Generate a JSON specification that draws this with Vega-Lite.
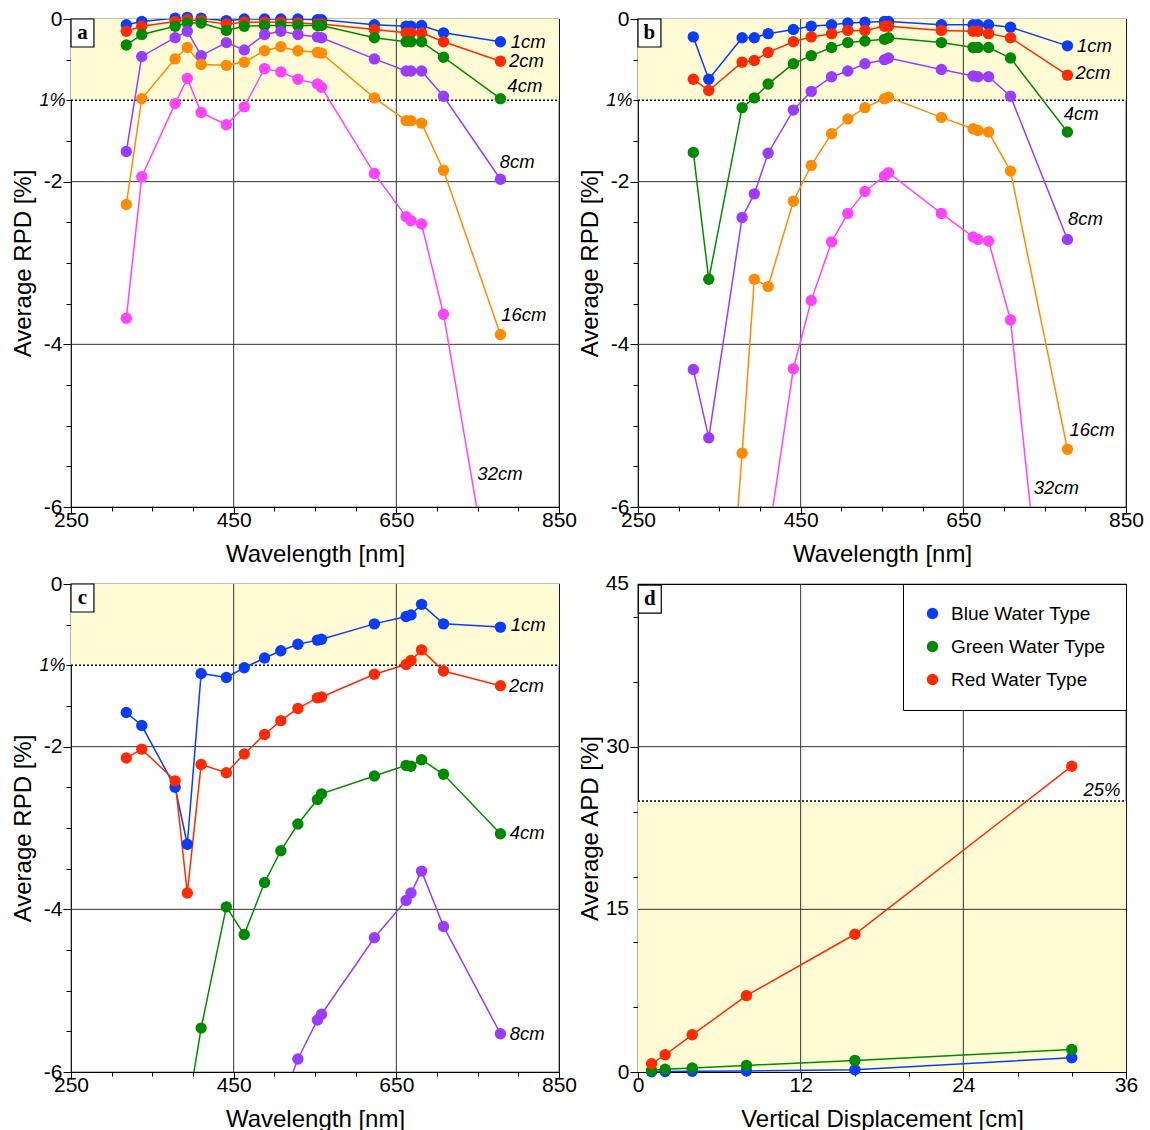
{
  "$schema": "https://vega.github.io/schema/vega-lite/v6.json",
  "padding": {"left": 11, "top": 7, "right": 5, "bottom": 0},
  "bounds": "flush",
  "columns": 2,
  "spacing": {"row": 77, "column": 79},
  "resolve": {"scale": {"color": "independent"}, "legend": {"color": "independent"}},
  "datasets": {
    "one": [{"k": 1}],
    "A": [
      {"w":318,"v":-0.07,"s":"1cm"},{"w":337,"v":-0.03,"s":"1cm"},{"w":378,"v":0.01,"s":"1cm"},{"w":393,"v":0.02,"s":"1cm"},{"w":410,"v":0.01,"s":"1cm"},{"w":441,"v":-0.02,"s":"1cm"},{"w":463,"v":0.0,"s":"1cm"},{"w":488,"v":0.0,"s":"1cm"},{"w":508,"v":0.0,"s":"1cm"},{"w":529,"v":0.0,"s":"1cm"},{"w":553,"v":-0.01,"s":"1cm"},{"w":558,"v":-0.01,"s":"1cm"},{"w":623,"v":-0.07,"s":"1cm"},{"w":662,"v":-0.09,"s":"1cm"},{"w":668,"v":-0.09,"s":"1cm"},{"w":681,"v":-0.08,"s":"1cm"},{"w":708,"v":-0.17,"s":"1cm"},{"w":778,"v":-0.28,"s":"1cm"},
      {"w":318,"v":-0.15,"s":"2cm"},{"w":337,"v":-0.09,"s":"2cm"},{"w":378,"v":-0.03,"s":"2cm"},{"w":393,"v":-0.01,"s":"2cm"},{"w":410,"v":-0.02,"s":"2cm"},{"w":441,"v":-0.06,"s":"2cm"},{"w":463,"v":-0.04,"s":"2cm"},{"w":488,"v":-0.04,"s":"2cm"},{"w":508,"v":-0.04,"s":"2cm"},{"w":529,"v":-0.05,"s":"2cm"},{"w":553,"v":-0.06,"s":"2cm"},{"w":558,"v":-0.06,"s":"2cm"},{"w":623,"v":-0.13,"s":"2cm"},{"w":662,"v":-0.17,"s":"2cm"},{"w":668,"v":-0.17,"s":"2cm"},{"w":681,"v":-0.17,"s":"2cm"},{"w":708,"v":-0.28,"s":"2cm"},{"w":778,"v":-0.52,"s":"2cm"},
      {"w":318,"v":-0.32,"s":"4cm"},{"w":337,"v":-0.19,"s":"4cm"},{"w":378,"v":-0.09,"s":"4cm"},{"w":393,"v":-0.05,"s":"4cm"},{"w":410,"v":-0.05,"s":"4cm"},{"w":441,"v":-0.14,"s":"4cm"},{"w":463,"v":-0.09,"s":"4cm"},{"w":488,"v":-0.08,"s":"4cm"},{"w":508,"v":-0.08,"s":"4cm"},{"w":529,"v":-0.08,"s":"4cm"},{"w":553,"v":-0.08,"s":"4cm"},{"w":558,"v":-0.08,"s":"4cm"},{"w":623,"v":-0.23,"s":"4cm"},{"w":662,"v":-0.28,"s":"4cm"},{"w":668,"v":-0.28,"s":"4cm"},{"w":681,"v":-0.28,"s":"4cm"},{"w":708,"v":-0.47,"s":"4cm"},{"w":778,"v":-0.98,"s":"4cm"},
      {"w":318,"v":-1.63,"s":"8cm"},{"w":337,"v":-0.46,"s":"8cm"},{"w":378,"v":-0.23,"s":"8cm"},{"w":393,"v":-0.15,"s":"8cm"},{"w":410,"v":-0.45,"s":"8cm"},{"w":441,"v":-0.29,"s":"8cm"},{"w":463,"v":-0.38,"s":"8cm"},{"w":488,"v":-0.19,"s":"8cm"},{"w":508,"v":-0.15,"s":"8cm"},{"w":529,"v":-0.19,"s":"8cm"},{"w":553,"v":-0.22,"s":"8cm"},{"w":558,"v":-0.23,"s":"8cm"},{"w":623,"v":-0.49,"s":"8cm"},{"w":662,"v":-0.64,"s":"8cm"},{"w":668,"v":-0.64,"s":"8cm"},{"w":681,"v":-0.64,"s":"8cm"},{"w":708,"v":-0.95,"s":"8cm"},{"w":778,"v":-1.97,"s":"8cm"},
      {"w":318,"v":-2.28,"s":"16cm"},{"w":337,"v":-0.98,"s":"16cm"},{"w":378,"v":-0.49,"s":"16cm"},{"w":393,"v":-0.35,"s":"16cm"},{"w":410,"v":-0.56,"s":"16cm"},{"w":441,"v":-0.57,"s":"16cm"},{"w":463,"v":-0.53,"s":"16cm"},{"w":488,"v":-0.39,"s":"16cm"},{"w":508,"v":-0.34,"s":"16cm"},{"w":529,"v":-0.39,"s":"16cm"},{"w":553,"v":-0.41,"s":"16cm"},{"w":558,"v":-0.42,"s":"16cm"},{"w":623,"v":-0.97,"s":"16cm"},{"w":662,"v":-1.25,"s":"16cm"},{"w":668,"v":-1.25,"s":"16cm"},{"w":681,"v":-1.28,"s":"16cm"},{"w":708,"v":-1.86,"s":"16cm"},{"w":778,"v":-3.88,"s":"16cm"},
      {"w":318,"v":-3.68,"s":"32cm"},{"w":337,"v":-1.94,"s":"32cm"},{"w":378,"v":-1.04,"s":"32cm"},{"w":393,"v":-0.73,"s":"32cm"},{"w":410,"v":-1.15,"s":"32cm"},{"w":441,"v":-1.30,"s":"32cm"},{"w":463,"v":-1.08,"s":"32cm"},{"w":488,"v":-0.61,"s":"32cm"},{"w":508,"v":-0.65,"s":"32cm"},{"w":529,"v":-0.74,"s":"32cm"},{"w":553,"v":-0.80,"s":"32cm"},{"w":558,"v":-0.84,"s":"32cm"},{"w":623,"v":-1.90,"s":"32cm"},{"w":662,"v":-2.43,"s":"32cm"},{"w":668,"v":-2.48,"s":"32cm"},{"w":681,"v":-2.52,"s":"32cm"},{"w":708,"v":-3.63,"s":"32cm"},{"w":778,"v":-7.7,"s":"32cm"}
    ],
    "B": [
      {"w":318,"v":-0.22,"s":"1cm"},{"w":337,"v":-0.74,"s":"1cm"},{"w":378,"v":-0.23,"s":"1cm"},{"w":393,"v":-0.23,"s":"1cm"},{"w":410,"v":-0.18,"s":"1cm"},{"w":441,"v":-0.13,"s":"1cm"},{"w":463,"v":-0.09,"s":"1cm"},{"w":488,"v":-0.07,"s":"1cm"},{"w":508,"v":-0.05,"s":"1cm"},{"w":529,"v":-0.04,"s":"1cm"},{"w":553,"v":-0.03,"s":"1cm"},{"w":558,"v":-0.03,"s":"1cm"},{"w":623,"v":-0.07,"s":"1cm"},{"w":662,"v":-0.07,"s":"1cm"},{"w":668,"v":-0.07,"s":"1cm"},{"w":681,"v":-0.07,"s":"1cm"},{"w":708,"v":-0.10,"s":"1cm"},{"w":778,"v":-0.33,"s":"1cm"},
      {"w":318,"v":-0.74,"s":"2cm"},{"w":337,"v":-0.88,"s":"2cm"},{"w":378,"v":-0.53,"s":"2cm"},{"w":393,"v":-0.51,"s":"2cm"},{"w":410,"v":-0.41,"s":"2cm"},{"w":441,"v":-0.28,"s":"2cm"},{"w":463,"v":-0.22,"s":"2cm"},{"w":488,"v":-0.18,"s":"2cm"},{"w":508,"v":-0.14,"s":"2cm"},{"w":529,"v":-0.14,"s":"2cm"},{"w":553,"v":-0.09,"s":"2cm"},{"w":558,"v":-0.09,"s":"2cm"},{"w":623,"v":-0.14,"s":"2cm"},{"w":662,"v":-0.15,"s":"2cm"},{"w":668,"v":-0.15,"s":"2cm"},{"w":681,"v":-0.18,"s":"2cm"},{"w":708,"v":-0.23,"s":"2cm"},{"w":778,"v":-0.69,"s":"2cm"},
      {"w":318,"v":-1.64,"s":"4cm"},{"w":337,"v":-3.20,"s":"4cm"},{"w":378,"v":-1.09,"s":"4cm"},{"w":393,"v":-0.97,"s":"4cm"},{"w":410,"v":-0.80,"s":"4cm"},{"w":441,"v":-0.55,"s":"4cm"},{"w":463,"v":-0.45,"s":"4cm"},{"w":488,"v":-0.35,"s":"4cm"},{"w":508,"v":-0.29,"s":"4cm"},{"w":529,"v":-0.27,"s":"4cm"},{"w":553,"v":-0.25,"s":"4cm"},{"w":558,"v":-0.23,"s":"4cm"},{"w":623,"v":-0.29,"s":"4cm"},{"w":662,"v":-0.35,"s":"4cm"},{"w":668,"v":-0.35,"s":"4cm"},{"w":681,"v":-0.35,"s":"4cm"},{"w":708,"v":-0.48,"s":"4cm"},{"w":778,"v":-1.39,"s":"4cm"},
      {"w":318,"v":-4.31,"s":"8cm"},{"w":337,"v":-5.15,"s":"8cm"},{"w":378,"v":-2.44,"s":"8cm"},{"w":393,"v":-2.15,"s":"8cm"},{"w":410,"v":-1.65,"s":"8cm"},{"w":441,"v":-1.12,"s":"8cm"},{"w":463,"v":-0.89,"s":"8cm"},{"w":488,"v":-0.71,"s":"8cm"},{"w":508,"v":-0.64,"s":"8cm"},{"w":529,"v":-0.55,"s":"8cm"},{"w":553,"v":-0.50,"s":"8cm"},{"w":558,"v":-0.48,"s":"8cm"},{"w":623,"v":-0.62,"s":"8cm"},{"w":662,"v":-0.70,"s":"8cm"},{"w":668,"v":-0.71,"s":"8cm"},{"w":681,"v":-0.71,"s":"8cm"},{"w":708,"v":-0.95,"s":"8cm"},{"w":778,"v":-2.71,"s":"8cm"},
      {"w":318,"v":-9.5,"s":"16cm"},{"w":337,"v":-10.8,"s":"16cm"},{"w":378,"v":-5.34,"s":"16cm"},{"w":393,"v":-3.20,"s":"16cm"},{"w":410,"v":-3.29,"s":"16cm"},{"w":441,"v":-2.24,"s":"16cm"},{"w":463,"v":-1.80,"s":"16cm"},{"w":488,"v":-1.41,"s":"16cm"},{"w":508,"v":-1.23,"s":"16cm"},{"w":529,"v":-1.09,"s":"16cm"},{"w":553,"v":-0.98,"s":"16cm"},{"w":558,"v":-0.96,"s":"16cm"},{"w":623,"v":-1.21,"s":"16cm"},{"w":662,"v":-1.35,"s":"16cm"},{"w":668,"v":-1.37,"s":"16cm"},{"w":681,"v":-1.39,"s":"16cm"},{"w":708,"v":-1.87,"s":"16cm"},{"w":778,"v":-5.29,"s":"16cm"},
      {"w":318,"v":-10.5,"s":"32cm"},{"w":337,"v":-10.5,"s":"32cm"},{"w":378,"v":-10,"s":"32cm"},{"w":393,"v":-8.5,"s":"32cm"},{"w":410,"v":-6.4,"s":"32cm"},{"w":441,"v":-4.30,"s":"32cm"},{"w":463,"v":-3.46,"s":"32cm"},{"w":488,"v":-2.74,"s":"32cm"},{"w":508,"v":-2.39,"s":"32cm"},{"w":529,"v":-2.12,"s":"32cm"},{"w":553,"v":-1.93,"s":"32cm"},{"w":558,"v":-1.89,"s":"32cm"},{"w":623,"v":-2.39,"s":"32cm"},{"w":662,"v":-2.68,"s":"32cm"},{"w":668,"v":-2.71,"s":"32cm"},{"w":681,"v":-2.73,"s":"32cm"},{"w":708,"v":-3.70,"s":"32cm"},{"w":778,"v":-10.3,"s":"32cm"}
    ],
    "C": [
      {"w":318,"v":-1.58,"s":"1cm"},{"w":337,"v":-1.74,"s":"1cm"},{"w":378,"v":-2.50,"s":"1cm"},{"w":393,"v":-3.20,"s":"1cm"},{"w":410,"v":-1.10,"s":"1cm"},{"w":441,"v":-1.15,"s":"1cm"},{"w":463,"v":-1.03,"s":"1cm"},{"w":488,"v":-0.91,"s":"1cm"},{"w":508,"v":-0.82,"s":"1cm"},{"w":529,"v":-0.74,"s":"1cm"},{"w":553,"v":-0.69,"s":"1cm"},{"w":558,"v":-0.68,"s":"1cm"},{"w":623,"v":-0.49,"s":"1cm"},{"w":662,"v":-0.40,"s":"1cm"},{"w":668,"v":-0.38,"s":"1cm"},{"w":681,"v":-0.25,"s":"1cm"},{"w":708,"v":-0.49,"s":"1cm"},{"w":778,"v":-0.53,"s":"1cm"},
      {"w":318,"v":-2.14,"s":"2cm"},{"w":337,"v":-2.03,"s":"2cm"},{"w":378,"v":-2.42,"s":"2cm"},{"w":393,"v":-3.80,"s":"2cm"},{"w":410,"v":-2.22,"s":"2cm"},{"w":441,"v":-2.32,"s":"2cm"},{"w":463,"v":-2.09,"s":"2cm"},{"w":488,"v":-1.85,"s":"2cm"},{"w":508,"v":-1.68,"s":"2cm"},{"w":529,"v":-1.53,"s":"2cm"},{"w":553,"v":-1.40,"s":"2cm"},{"w":558,"v":-1.39,"s":"2cm"},{"w":623,"v":-1.11,"s":"2cm"},{"w":662,"v":-0.99,"s":"2cm"},{"w":668,"v":-0.94,"s":"2cm"},{"w":681,"v":-0.81,"s":"2cm"},{"w":708,"v":-1.07,"s":"2cm"},{"w":778,"v":-1.25,"s":"2cm"},
      {"w":318,"v":-9,"s":"4cm"},{"w":337,"v":-9,"s":"4cm"},{"w":378,"v":-8,"s":"4cm"},{"w":393,"v":-6.5,"s":"4cm"},{"w":410,"v":-5.46,"s":"4cm"},{"w":441,"v":-3.97,"s":"4cm"},{"w":463,"v":-4.31,"s":"4cm"},{"w":488,"v":-3.67,"s":"4cm"},{"w":508,"v":-3.28,"s":"4cm"},{"w":529,"v":-2.95,"s":"4cm"},{"w":553,"v":-2.65,"s":"4cm"},{"w":558,"v":-2.58,"s":"4cm"},{"w":623,"v":-2.36,"s":"4cm"},{"w":662,"v":-2.23,"s":"4cm"},{"w":668,"v":-2.24,"s":"4cm"},{"w":681,"v":-2.16,"s":"4cm"},{"w":708,"v":-2.34,"s":"4cm"},{"w":778,"v":-3.07,"s":"4cm"},
      {"w":318,"v":-12,"s":"8cm"},{"w":337,"v":-12,"s":"8cm"},{"w":378,"v":-11,"s":"8cm"},{"w":393,"v":-11,"s":"8cm"},{"w":410,"v":-10,"s":"8cm"},{"w":441,"v":-8.5,"s":"8cm"},{"w":463,"v":-7.5,"s":"8cm"},{"w":488,"v":-7,"s":"8cm"},{"w":508,"v":-6.4,"s":"8cm"},{"w":529,"v":-5.84,"s":"8cm"},{"w":553,"v":-5.36,"s":"8cm"},{"w":558,"v":-5.29,"s":"8cm"},{"w":623,"v":-4.35,"s":"8cm"},{"w":662,"v":-3.89,"s":"8cm"},{"w":668,"v":-3.80,"s":"8cm"},{"w":681,"v":-3.53,"s":"8cm"},{"w":708,"v":-4.21,"s":"8cm"},{"w":778,"v":-5.53,"s":"8cm"}
    ],
    "D": [
      {"dz":1,"apd":0.02,"wt":"Blue Water Type"},{"dz":2,"apd":0.04,"wt":"Blue Water Type"},{"dz":4,"apd":0.07,"wt":"Blue Water Type"},{"dz":8,"apd":0.1,"wt":"Blue Water Type"},{"dz":16,"apd":0.2,"wt":"Blue Water Type"},{"dz":32,"apd":1.32,"wt":"Blue Water Type"},
      {"dz":1,"apd":0.15,"wt":"Green Water Type"},{"dz":2,"apd":0.25,"wt":"Green Water Type"},{"dz":4,"apd":0.37,"wt":"Green Water Type"},{"dz":8,"apd":0.61,"wt":"Green Water Type"},{"dz":16,"apd":1.07,"wt":"Green Water Type"},{"dz":32,"apd":2.08,"wt":"Green Water Type"},
      {"dz":1,"apd":0.76,"wt":"Red Water Type"},{"dz":2,"apd":1.59,"wt":"Red Water Type"},{"dz":4,"apd":3.43,"wt":"Red Water Type"},{"dz":8,"apd":7.04,"wt":"Red Water Type"},{"dz":16,"apd":12.70,"wt":"Red Water Type"},{"dz":32,"apd":28.2,"wt":"Red Water Type"}
    ],
    "LA": [{"w":790.6,"v":-0.285,"t":"1cm"},{"w":788.5,"v":-0.52,"t":"2cm"},{"w":786.5,"v":-0.82,"t":"4cm"},{"w":777,"v":-1.76,"t":"8cm"},{"w":779,"v":-3.64,"t":"16cm"},{"w":749.6,"v":-5.59,"t":"32cm"}],
    "LB": [{"w":789.8,"v":-0.33,"t":"1cm"},{"w":787.8,"v":-0.66,"t":"2cm"},{"w":773.4,"v":-1.17,"t":"4cm"},{"w":778.7,"v":-2.46,"t":"8cm"},{"w":780.4,"v":-5.05,"t":"16cm"},{"w":736.5,"v":-5.77,"t":"32cm"}],
    "LC": [{"w":790.6,"v":-0.51,"t":"1cm"},{"w":788.5,"v":-1.25,"t":"2cm"},{"w":789.4,"v":-3.06,"t":"4cm"},{"w":789.4,"v":-5.53,"t":"8cm"}]
  },
  "concat": [
    {
      "width": 488, "height": 488,
      "layer": [
        {"data": {"name": "one"}, "mark": {"type": "rect", "color": "#fffcd5"}, "encoding": {"x": {"datum": 250, "type": "quantitative", "title": "Wavelength [nm]"}, "x2": {"datum": 850}, "y": {"datum": 0, "type": "quantitative", "title": "Average RPD [%]"}, "y2": {"datum": -1}}},
        {"data": {"name": "one"}, "mark": {"type": "rule", "color": "#333333", "strokeWidth": 1}, "encoding": {"x": {"datum": 450, "type": "quantitative", "title": "Wavelength [nm]"}}},
        {"data": {"name": "one"}, "mark": {"type": "rule", "color": "#333333", "strokeWidth": 1}, "encoding": {"x": {"datum": 650, "type": "quantitative", "title": "Wavelength [nm]"}}},
        {"data": {"name": "one"}, "mark": {"type": "rule", "color": "#333333", "strokeWidth": 1}, "encoding": {"y": {"datum": -2, "type": "quantitative", "title": "Average RPD [%]"}}},
        {"data": {"name": "one"}, "mark": {"type": "rule", "color": "#333333", "strokeWidth": 1}, "encoding": {"y": {"datum": -4, "type": "quantitative", "title": "Average RPD [%]"}}},
        {"data": {"name": "one"}, "mark": {"type": "rule", "color": "black", "strokeWidth": 1.5, "strokeDash": [2, 2]}, "encoding": {"x": {"datum": 250, "type": "quantitative", "title": "Wavelength [nm]"}, "x2": {"datum": 850}, "y": {"datum": -1, "type": "quantitative", "title": "Average RPD [%]"}}},
        {
          "encoding": {
            "x": {"field": "w", "type": "quantitative", "title": "Wavelength [nm]", "scale": {"domain": [250, 850], "nice": false, "zero": false},
              "axis": {"labelOverlap": false, "values": [250,300,350,400,450,500,550,600,650,700,750,800,850], "labelExpr": "(datum.value - 250) % 200 == 0 ? toString(datum.value) : ''",
                "tickSize": {"condition": {"test": "(datum.value - 250) % 200 == 0", "value": 7}, "value": 4}}},
            "y": {"field": "v", "type": "quantitative", "title": "Average RPD [%]", "scale": {"domain": [-6, 0], "nice": false, "zero": false},
              "axis": {"labelOverlap": false, "values": [0,-0.5,-1,-1.5,-2,-2.5,-3,-3.5,-4,-4.5,-5,-5.5,-6], "labelExpr": "datum.value == -1 ? '1%' : (datum.value % 2 == 0 ? toString(datum.value) : '')",
                "labelFontStyle": {"condition": {"test": "datum.value == -1", "value": "italic"}, "value": "normal"},
                "labelFontSize": {"condition": {"test": "datum.value == -1", "value": 18}, "value": 21},
                "tickSize": {"condition": {"test": "datum.value % 2 == 0", "value": 8}, "value": 5}}}
          },
          "layer": [
            {"data": {"name": "A"}, "mark": {"type": "line", "clip": true, "strokeWidth": 1.5},
              "encoding": {"color": {"field": "s", "type": "nominal", "scale": {"domain": ["1cm","2cm","4cm","8cm","16cm","32cm"], "range": ["#0a3cff","#ff2a00","#008a00","#9a3cff","#ff8c00","#ff44ff"]}, "legend": null}}},
            {"data": {"name": "A"}, "transform": [{"filter": "datum.v >= -6"}], "mark": {"type": "point", "filled": true, "size": 130, "opacity": 1},
              "encoding": {"color": {"field": "s", "type": "nominal", "scale": {"domain": ["1cm","2cm","4cm","8cm","16cm","32cm"], "range": ["#0a3cff","#ff2a00","#008a00","#9a3cff","#ff8c00","#ff44ff"]}, "legend": null}}},
            {"data": {"name": "LA"}, "mark": {"type": "text", "align": "left", "baseline": "middle", "fontSize": 18.5, "fontStyle": "italic", "color": "black"}, "encoding": {"text": {"field": "t"}}}
          ]
        },
        {"data": {"name": "one"}, "mark": {"type": "point", "shape": "M-0.82,-1L0.82,-1L0.82,1L-0.82,1Z", "size": 784, "filled": false, "fill": "white", "stroke": "black", "strokeWidth": 1.2, "opacity": 1}, "encoding": {"x": {"datum": 264.1, "type": "quantitative", "title": "Wavelength [nm]"}, "y": {"datum": -0.172, "type": "quantitative", "title": "Average RPD [%]"}}},
        {"data": {"name": "one"}, "mark": {"type": "text", "text": "a", "font": "Liberation Serif", "fontWeight": "bold", "fontSize": 21, "align": "center", "baseline": "middle", "color": "black"}, "encoding": {"x": {"datum": 264.1, "type": "quantitative", "title": "Wavelength [nm]"}, "y": {"datum": -0.172, "type": "quantitative", "title": "Average RPD [%]"}}}
      ]
    },
    {
      "width": 488, "height": 488,
      "layer": [
        {"data": {"name": "one"}, "mark": {"type": "rect", "color": "#fffcd5"}, "encoding": {"x": {"datum": 250, "type": "quantitative", "title": "Wavelength [nm]"}, "x2": {"datum": 850}, "y": {"datum": 0, "type": "quantitative", "title": "Average RPD [%]"}, "y2": {"datum": -1}}},
        {"data": {"name": "one"}, "mark": {"type": "rule", "color": "#333333", "strokeWidth": 1}, "encoding": {"x": {"datum": 450, "type": "quantitative", "title": "Wavelength [nm]"}}},
        {"data": {"name": "one"}, "mark": {"type": "rule", "color": "#333333", "strokeWidth": 1}, "encoding": {"x": {"datum": 650, "type": "quantitative", "title": "Wavelength [nm]"}}},
        {"data": {"name": "one"}, "mark": {"type": "rule", "color": "#333333", "strokeWidth": 1}, "encoding": {"y": {"datum": -2, "type": "quantitative", "title": "Average RPD [%]"}}},
        {"data": {"name": "one"}, "mark": {"type": "rule", "color": "#333333", "strokeWidth": 1}, "encoding": {"y": {"datum": -4, "type": "quantitative", "title": "Average RPD [%]"}}},
        {"data": {"name": "one"}, "mark": {"type": "rule", "color": "black", "strokeWidth": 1.5, "strokeDash": [2, 2]}, "encoding": {"x": {"datum": 250, "type": "quantitative", "title": "Wavelength [nm]"}, "x2": {"datum": 850}, "y": {"datum": -1, "type": "quantitative", "title": "Average RPD [%]"}}},
        {
          "encoding": {
            "x": {"field": "w", "type": "quantitative", "title": "Wavelength [nm]", "scale": {"domain": [250, 850], "nice": false, "zero": false},
              "axis": {"labelOverlap": false, "values": [250,300,350,400,450,500,550,600,650,700,750,800,850], "labelExpr": "(datum.value - 250) % 200 == 0 ? toString(datum.value) : ''",
                "tickSize": {"condition": {"test": "(datum.value - 250) % 200 == 0", "value": 7}, "value": 4}}},
            "y": {"field": "v", "type": "quantitative", "title": "Average RPD [%]", "scale": {"domain": [-6, 0], "nice": false, "zero": false},
              "axis": {"labelOverlap": false, "values": [0,-0.5,-1,-1.5,-2,-2.5,-3,-3.5,-4,-4.5,-5,-5.5,-6], "labelExpr": "datum.value == -1 ? '1%' : (datum.value % 2 == 0 ? toString(datum.value) : '')",
                "labelFontStyle": {"condition": {"test": "datum.value == -1", "value": "italic"}, "value": "normal"},
                "labelFontSize": {"condition": {"test": "datum.value == -1", "value": 18}, "value": 21},
                "tickSize": {"condition": {"test": "datum.value % 2 == 0", "value": 8}, "value": 5}}}
          },
          "layer": [
            {"data": {"name": "B"}, "mark": {"type": "line", "clip": true, "strokeWidth": 1.5},
              "encoding": {"color": {"field": "s", "type": "nominal", "scale": {"domain": ["1cm","2cm","4cm","8cm","16cm","32cm"], "range": ["#0a3cff","#ff2a00","#008a00","#9a3cff","#ff8c00","#ff44ff"]}, "legend": null}}},
            {"data": {"name": "B"}, "transform": [{"filter": "datum.v >= -6"}], "mark": {"type": "point", "filled": true, "size": 130, "opacity": 1},
              "encoding": {"color": {"field": "s", "type": "nominal", "scale": {"domain": ["1cm","2cm","4cm","8cm","16cm","32cm"], "range": ["#0a3cff","#ff2a00","#008a00","#9a3cff","#ff8c00","#ff44ff"]}, "legend": null}}},
            {"data": {"name": "LB"}, "mark": {"type": "text", "align": "left", "baseline": "middle", "fontSize": 18.5, "fontStyle": "italic", "color": "black"}, "encoding": {"text": {"field": "t"}}}
          ]
        },
        {"data": {"name": "one"}, "mark": {"type": "point", "shape": "M-0.82,-1L0.82,-1L0.82,1L-0.82,1Z", "size": 784, "filled": false, "fill": "white", "stroke": "black", "strokeWidth": 1.2, "opacity": 1}, "encoding": {"x": {"datum": 264.1, "type": "quantitative", "title": "Wavelength [nm]"}, "y": {"datum": -0.172, "type": "quantitative", "title": "Average RPD [%]"}}},
        {"data": {"name": "one"}, "mark": {"type": "text", "text": "b", "font": "Liberation Serif", "fontWeight": "bold", "fontSize": 21, "align": "center", "baseline": "middle", "color": "black"}, "encoding": {"x": {"datum": 264.1, "type": "quantitative", "title": "Wavelength [nm]"}, "y": {"datum": -0.172, "type": "quantitative", "title": "Average RPD [%]"}}}
      ]
    },
    {
      "width": 488, "height": 488,
      "layer": [
        {"data": {"name": "one"}, "mark": {"type": "rect", "color": "#fffcd5"}, "encoding": {"x": {"datum": 250, "type": "quantitative", "title": "Wavelength [nm]"}, "x2": {"datum": 850}, "y": {"datum": 0, "type": "quantitative", "title": "Average RPD [%]"}, "y2": {"datum": -1}}},
        {"data": {"name": "one"}, "mark": {"type": "rule", "color": "#333333", "strokeWidth": 1}, "encoding": {"x": {"datum": 450, "type": "quantitative", "title": "Wavelength [nm]"}}},
        {"data": {"name": "one"}, "mark": {"type": "rule", "color": "#333333", "strokeWidth": 1}, "encoding": {"x": {"datum": 650, "type": "quantitative", "title": "Wavelength [nm]"}}},
        {"data": {"name": "one"}, "mark": {"type": "rule", "color": "#333333", "strokeWidth": 1}, "encoding": {"y": {"datum": -2, "type": "quantitative", "title": "Average RPD [%]"}}},
        {"data": {"name": "one"}, "mark": {"type": "rule", "color": "#333333", "strokeWidth": 1}, "encoding": {"y": {"datum": -4, "type": "quantitative", "title": "Average RPD [%]"}}},
        {"data": {"name": "one"}, "mark": {"type": "rule", "color": "black", "strokeWidth": 1.5, "strokeDash": [2, 2]}, "encoding": {"x": {"datum": 250, "type": "quantitative", "title": "Wavelength [nm]"}, "x2": {"datum": 850}, "y": {"datum": -1, "type": "quantitative", "title": "Average RPD [%]"}}},
        {
          "encoding": {
            "x": {"field": "w", "type": "quantitative", "title": "Wavelength [nm]", "scale": {"domain": [250, 850], "nice": false, "zero": false},
              "axis": {"labelOverlap": false, "values": [250,300,350,400,450,500,550,600,650,700,750,800,850], "labelExpr": "(datum.value - 250) % 200 == 0 ? toString(datum.value) : ''",
                "tickSize": {"condition": {"test": "(datum.value - 250) % 200 == 0", "value": 7}, "value": 4}}},
            "y": {"field": "v", "type": "quantitative", "title": "Average RPD [%]", "scale": {"domain": [-6, 0], "nice": false, "zero": false},
              "axis": {"labelOverlap": false, "values": [0,-0.5,-1,-1.5,-2,-2.5,-3,-3.5,-4,-4.5,-5,-5.5,-6], "labelExpr": "datum.value == -1 ? '1%' : (datum.value % 2 == 0 ? toString(datum.value) : '')",
                "labelFontStyle": {"condition": {"test": "datum.value == -1", "value": "italic"}, "value": "normal"},
                "labelFontSize": {"condition": {"test": "datum.value == -1", "value": 18}, "value": 21},
                "tickSize": {"condition": {"test": "datum.value % 2 == 0", "value": 8}, "value": 5}}}
          },
          "layer": [
            {"data": {"name": "C"}, "mark": {"type": "line", "clip": true, "strokeWidth": 1.5},
              "encoding": {"color": {"field": "s", "type": "nominal", "scale": {"domain": ["1cm","2cm","4cm","8cm"], "range": ["#0a3cff","#ff2a00","#008a00","#9a3cff"]}, "legend": null}}},
            {"data": {"name": "C"}, "transform": [{"filter": "datum.v >= -6"}], "mark": {"type": "point", "filled": true, "size": 130, "opacity": 1},
              "encoding": {"color": {"field": "s", "type": "nominal", "scale": {"domain": ["1cm","2cm","4cm","8cm"], "range": ["#0a3cff","#ff2a00","#008a00","#9a3cff"]}, "legend": null}}},
            {"data": {"name": "LC"}, "mark": {"type": "text", "align": "left", "baseline": "middle", "fontSize": 18.5, "fontStyle": "italic", "color": "black"}, "encoding": {"text": {"field": "t"}}}
          ]
        },
        {"data": {"name": "one"}, "mark": {"type": "point", "shape": "M-0.82,-1L0.82,-1L0.82,1L-0.82,1Z", "size": 784, "filled": false, "fill": "white", "stroke": "black", "strokeWidth": 1.2, "opacity": 1}, "encoding": {"x": {"datum": 264.1, "type": "quantitative", "title": "Wavelength [nm]"}, "y": {"datum": -0.172, "type": "quantitative", "title": "Average RPD [%]"}}},
        {"data": {"name": "one"}, "mark": {"type": "text", "text": "c", "font": "Liberation Serif", "fontWeight": "bold", "fontSize": 21, "align": "center", "baseline": "middle", "color": "black"}, "encoding": {"x": {"datum": 264.1, "type": "quantitative", "title": "Wavelength [nm]"}, "y": {"datum": -0.172, "type": "quantitative", "title": "Average RPD [%]"}}}
      ]
    },
    {
      "width": 488, "height": 488,
      "layer": [
        {"data": {"name": "one"}, "mark": {"type": "rect", "color": "#fffcd5"}, "encoding": {"x": {"datum": 0, "type": "quantitative", "title": "Vertical Displacement [cm]", "axis": {"labelOverlap": false}}, "x2": {"datum": 36}, "y": {"datum": 0, "type": "quantitative", "title": "Average APD [%]", "axis": {"labelOverlap": false}}, "y2": {"datum": 25}}},
        {"data": {"name": "one"}, "mark": {"type": "rule", "color": "#333333", "strokeWidth": 1}, "encoding": {"x": {"datum": 12, "type": "quantitative", "title": "Vertical Displacement [cm]", "axis": {"labelOverlap": false}}}},
        {"data": {"name": "one"}, "mark": {"type": "rule", "color": "#333333", "strokeWidth": 1}, "encoding": {"x": {"datum": 24, "type": "quantitative", "title": "Vertical Displacement [cm]", "axis": {"labelOverlap": false}}}},
        {"data": {"name": "one"}, "mark": {"type": "rule", "color": "#333333", "strokeWidth": 1}, "encoding": {"y": {"datum": 15, "type": "quantitative", "title": "Average APD [%]", "axis": {"labelOverlap": false}}}},
        {"data": {"name": "one"}, "mark": {"type": "rule", "color": "#333333", "strokeWidth": 1}, "encoding": {"y": {"datum": 30, "type": "quantitative", "title": "Average APD [%]", "axis": {"labelOverlap": false}}}},
        {"data": {"name": "one"}, "mark": {"type": "rule", "color": "black", "strokeWidth": 1.5, "strokeDash": [2, 2]}, "encoding": {"x": {"datum": 0, "type": "quantitative", "title": "Vertical Displacement [cm]", "axis": {"labelOverlap": false}}, "x2": {"datum": 36}, "y": {"datum": 25, "type": "quantitative", "title": "Average APD [%]", "axis": {"labelOverlap": false}}}},
        {
          "encoding": {
            "x": {"field": "dz", "type": "quantitative", "title": "Vertical Displacement [cm]", "scale": {"domain": [0, 36], "nice": false, "zero": false},
              "axis": {"labelOverlap": false, "values": [0,2,4,6,8,10,12,14,16,18,20,22,24,26,28,30,32,34,36], "labelExpr": "datum.value % 12 == 0 ? toString(datum.value) : ''",
                "tickSize": {"condition": {"test": "datum.value % 12 == 0", "value": 7}, "value": 4}}},
            "y": {"field": "apd", "type": "quantitative", "title": "Average APD [%]", "scale": {"domain": [0, 45], "nice": false, "zero": false},
              "axis": {"labelOverlap": false, "values": [0,3,6,9,12,15,18,21,24,27,30,33,36,39,42,45], "labelExpr": "datum.value % 15 == 0 ? toString(datum.value) : ''",
                "tickSize": {"condition": {"test": "datum.value % 15 == 0", "value": 8}, "value": 5}}},
            "color": {"field": "wt", "type": "nominal", "scale": {"domain": ["Blue Water Type","Green Water Type","Red Water Type"], "range": ["#0a3cff","#008a00","#ff2a00"]},
              "legend": {"title": null, "orient": "top-right", "offset": 0, "zindex": 2, "strokeColor": "black", "fillColor": "white", "padding": 20, "labelFontSize": 19, "labelColor": "black", "symbolSize": 130, "symbolType": "circle", "symbolStrokeWidth": 0, "rowPadding": 13, "labelOffset": 9}}
          },
          "layer": [
            {"data": {"name": "D"}, "mark": {"type": "line", "clip": true, "strokeWidth": 1.5}},
            {"data": {"name": "D"}, "mark": {"type": "point", "filled": true, "size": 130, "opacity": 1}}
          ]
        },
        {"data": {"name": "one"}, "mark": {"type": "text", "text": "15", "align": "right", "baseline": "middle", "dx": -9, "fontSize": 21, "font": "Liberation Sans", "color": "black"}, "encoding": {"x": {"datum": 0, "type": "quantitative", "title": "Vertical Displacement [cm]", "axis": {"labelOverlap": false}}, "y": {"datum": 15, "type": "quantitative", "title": "Average APD [%]", "axis": {"labelOverlap": false}}}},
        {"data": {"name": "one"}, "mark": {"type": "text", "text": "45", "align": "right", "baseline": "middle", "dx": -9, "fontSize": 21, "font": "Liberation Sans", "color": "black"}, "encoding": {"x": {"datum": 0, "type": "quantitative", "title": "Vertical Displacement [cm]", "axis": {"labelOverlap": false}}, "y": {"datum": 45, "type": "quantitative", "title": "Average APD [%]", "axis": {"labelOverlap": false}}}},
        {"data": {"name": "one"}, "mark": {"type": "text", "text": "25%", "align": "right", "baseline": "middle", "fontSize": 18.5, "fontStyle": "italic", "color": "black"}, "encoding": {"x": {"datum": 35.6, "type": "quantitative", "title": "Vertical Displacement [cm]", "axis": {"labelOverlap": false}}, "y": {"datum": 26.0, "type": "quantitative", "title": "Average APD [%]", "axis": {"labelOverlap": false}}}},
        {"data": {"name": "one"}, "mark": {"type": "point", "shape": "M-0.82,-1L0.82,-1L0.82,1L-0.82,1Z", "size": 784, "filled": false, "fill": "white", "stroke": "black", "strokeWidth": 1.2, "opacity": 1}, "encoding": {"x": {"datum": 0.87, "type": "quantitative", "title": "Vertical Displacement [cm]", "axis": {"labelOverlap": false}}, "y": {"datum": 43.6, "type": "quantitative", "title": "Average APD [%]", "axis": {"labelOverlap": false}}}},
        {"data": {"name": "one"}, "mark": {"type": "text", "text": "d", "font": "Liberation Serif", "fontWeight": "bold", "fontSize": 21, "align": "center", "baseline": "middle", "color": "black"}, "encoding": {"x": {"datum": 0.87, "type": "quantitative", "title": "Vertical Displacement [cm]", "axis": {"labelOverlap": false}}, "y": {"datum": 43.6, "type": "quantitative", "title": "Average APD [%]", "axis": {"labelOverlap": false}}}}
      ]
    }
  ],
  "config": {
    "font": "Liberation Sans",
    "view": {"stroke": "black", "strokeWidth": 1.2},
    "axis": {"domain": false, "grid": false, "labelFont": "Liberation Sans", "labelFontSize": 21, "labelColor": "black", "titleFont": "Liberation Sans", "titleFontSize": 24, "titleFontWeight": "normal", "titleColor": "black", "tickColor": "black", "tickWidth": 1, "labelFlush": false, "labelOverlap": false},
    "axisX": {"titlePadding": 12, "labelPadding": -5},
    "axisY": {"titlePadding": 3, "labelPadding": 1},
    "legend": {"labelFont": "Liberation Sans"}
  }
}
